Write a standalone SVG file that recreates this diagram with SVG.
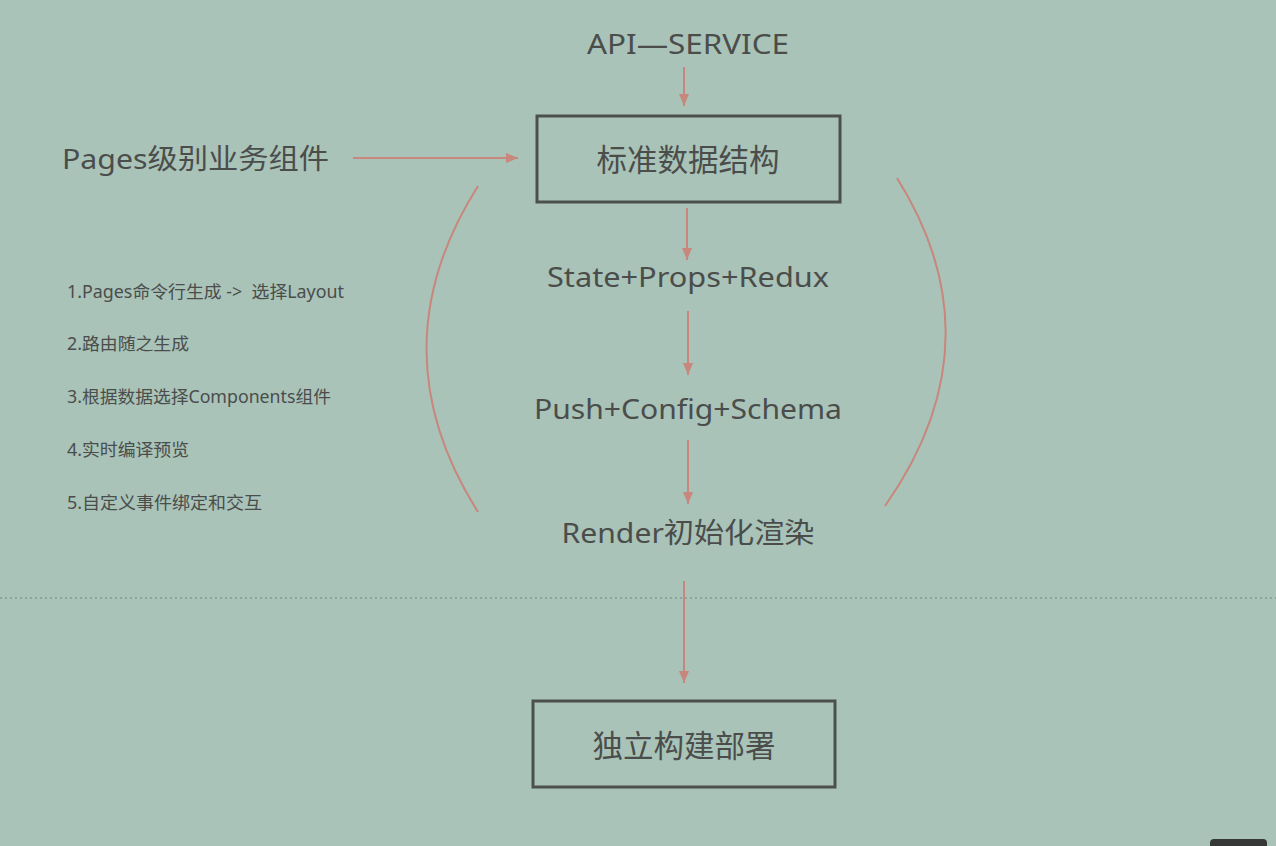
<svg xmlns="http://www.w3.org/2000/svg" width="1276" height="846" viewBox="0 0 1276 846">
<style>
.t{font-family:"Noto Sans","Noto Sans CJK SC",sans-serif;fill:#4b4d4b}
.big{font-size:28px}
.bx{font-size:30.5px}
.sm{font-size:17.5px}
.box{fill:none;stroke:#4c504d;stroke-width:3}
.c{stroke:#c8877c;stroke-width:2;fill:none}
</style>
<defs>
<marker id="ah" viewBox="0 0 12 10" refX="12" refY="5" markerWidth="12" markerHeight="10" markerUnits="userSpaceOnUse" orient="auto">
<path d="M0,0 L12,5 L0,10 z" fill="#c8877c"/>
</marker>
</defs>
<rect width="1276" height="846" fill="#a9c3b9"/>
<line x1="0" y1="598" x2="1276" y2="598" stroke="#6f8580" stroke-width="1.2" stroke-dasharray="2,3"/>
<g id="connectors">
<line class="c" x1="684" y1="67" x2="684" y2="106" marker-end="url(#ah)"/>
<line class="c" x1="353" y1="158" x2="518" y2="158" marker-end="url(#ah)"/>
<line class="c" x1="687" y1="208" x2="687" y2="260" marker-end="url(#ah)"/>
<line class="c" x1="688" y1="311" x2="688" y2="375" marker-end="url(#ah)"/>
<line class="c" x1="688" y1="440" x2="688" y2="504" marker-end="url(#ah)"/>
<line class="c" x1="684" y1="581" x2="684" y2="683" marker-end="url(#ah)"/>
<path class="c" d="M478,186 Q375,349 478,512"/>
<path class="c" d="M897,178 Q1000,342 885,506"/>
</g>
<g id="api"><text class="t big" x="688" y="54" text-anchor="middle" textLength="202" lengthAdjust="spacingAndGlyphs">API—SERVICE</text></g>
<g id="std"><rect class="box" x="537" y="116" width="303" height="86"/><text class="t bx" x="688" y="171" text-anchor="middle">标准数据结构</text></g>
<g id="pages"><text class="t big" x="62" y="169" textLength="267" lengthAdjust="spacingAndGlyphs">Pages级别业务组件</text></g>
<g id="state"><text class="t big" x="688" y="287" text-anchor="middle" textLength="282" lengthAdjust="spacingAndGlyphs">State+Props+Redux</text></g>
<g id="push"><text class="t big" x="688" y="419" text-anchor="middle" textLength="308" lengthAdjust="spacingAndGlyphs">Push+Config+Schema</text></g>
<g id="render"><text class="t big" x="688" y="543" text-anchor="middle" textLength="253" lengthAdjust="spacingAndGlyphs">Render初始化渲染</text></g>
<g id="deploy"><rect class="box" x="533" y="701" width="302" height="86"/><text class="t bx" x="684" y="757" text-anchor="middle">独立构建部署</text></g>
<g id="list">
<text class="t sm" x="67" y="298" xml:space="preserve" textLength="277" lengthAdjust="spacingAndGlyphs">1.Pages命令行生成 -&gt;  选择Layout</text>
<text class="t sm" x="67" y="350" textLength="122" lengthAdjust="spacingAndGlyphs">2.路由随之生成</text>
<text class="t sm" x="67" y="403" textLength="264" lengthAdjust="spacingAndGlyphs">3.根据数据选择Components组件</text>
<text class="t sm" x="67" y="456" textLength="122" lengthAdjust="spacingAndGlyphs">4.实时编译预览</text>
<text class="t sm" x="67" y="509" textLength="195" lengthAdjust="spacingAndGlyphs">5.自定义事件绑定和交互</text>
</g>
<rect x="1210" y="839" width="57" height="14" rx="4" fill="#353836"/>
</svg>
